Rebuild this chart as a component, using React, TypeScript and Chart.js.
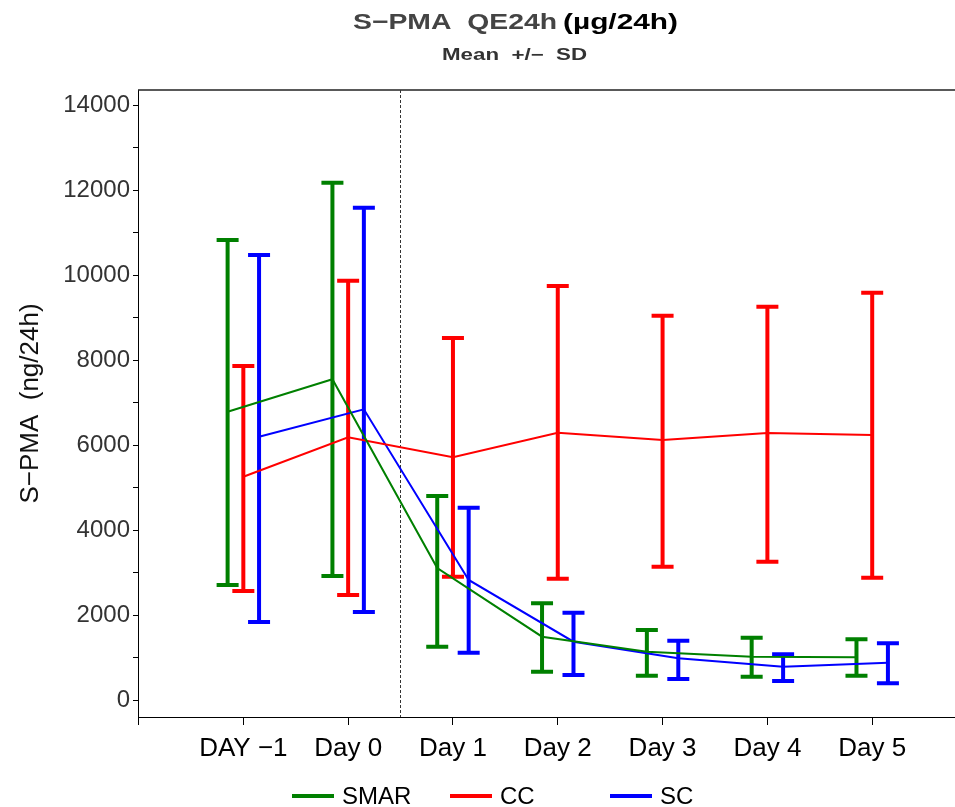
import React, { useEffect, useRef } from 'react';
import { Chart, registerables } from 'chart.js';

Chart.register(...registerables);

// ---- Data ----
const categories = ['DAY −1', 'Day 0', 'Day 1', 'Day 2', 'Day 3', 'Day 4', 'Day 5'];
const yTickValues = [0, 1000, 2000, 3000, 4000, 5000, 6000, 7000, 8000, 9000, 10000, 11000, 12000, 13000, 14000];

const smarMean = [6784, 7546, 3106, 1490, 1137, 1020, 1004];
const smarUpper = [10824, 12172, 4800, 2275, 1647, 1467, 1427];
const smarLower = [2706, 2918, 1255, 666, 572, 549, 572];

const ccMean = [5254, 6181, 5710, 6290, 6118, 6282, 6235];
const ccUpper = [7859, 9866, 8518, 9741, 9043, 9255, 9584];
const ccLower = [2565, 2471, 2902, 2855, 3137, 3255, 2878];

const scMean = [6195, 6840, 2824, 1372, 980, 784, 878];
const scUpper = [10471, 11584, 4525, 2054, 1396, 1075, 1334];
const scLower = [1835, 2071, 1113, 588, 494, 447, 392];

const seriesNames = ['SMAR', 'CC', 'SC'];

// ---- Styles ----
const FONT = "'Liberation Sans', Arial, Helvetica, sans-serif";
const COLORS = ['#008000', '#ff0000', '#0000ff'];
const OFFSETS = [-0.15, 0, 0.15];
const SERIES = [
  { name: seriesNames[0], mean: smarMean, upper: smarUpper, lower: smarLower, color: COLORS[0], offset: OFFSETS[0] },
  { name: seriesNames[1], mean: ccMean, upper: ccUpper, lower: ccLower, color: COLORS[1], offset: OFFSETS[1] },
  { name: seriesNames[2], mean: scMean, upper: scUpper, lower: scLower, color: COLORS[2], offset: OFFSETS[2] },
];
const REF_LINE_AT = 1.5;

function fitText(ctx: CanvasRenderingContext2D, text: string, x0: number, x1: number, y: number) {
  const w = ctx.measureText(text).width;
  const sx = (x1 - x0) / w;
  ctx.save();
  ctx.translate(x0, y);
  ctx.scale(sx, 1);
  ctx.textAlign = 'left';
  ctx.fillText(text, 0, 0);
  ctx.restore();
}

const decorPlugin = {
  id: 'decor',
  beforeDatasetsDraw(chart: any) {
    const { ctx, chartArea, scales } = chart;
    const x = scales.x;
    const y = scales.y;
    ctx.save();
    // top frame line
    ctx.strokeStyle = '#222';
    ctx.lineWidth = 1.5;
    ctx.beginPath();
    ctx.moveTo(chartArea.left, chartArea.top);
    ctx.lineTo(chartArea.right, chartArea.top);
    ctx.stroke();
    // dotted reference line
    const rx = Math.round(x.getPixelForValue(REF_LINE_AT)) - 0.5;
    ctx.strokeStyle = '#333';
    ctx.lineWidth = 1;
    ctx.setLineDash([3, 2]);
    ctx.beginPath();
    ctx.moveTo(rx, chartArea.top);
    ctx.lineTo(rx, chartArea.bottom);
    ctx.stroke();
    ctx.setLineDash([]);
    // error bars
    ctx.lineCap = 'butt';
    SERIES.forEach((s) => {
      ctx.strokeStyle = s.color;
      ctx.lineWidth = 4;
      s.mean.forEach((_m, i) => {
        const px = x.getPixelForValue(i + s.offset);
        const pt = y.getPixelForValue(s.upper[i]);
        const pb = y.getPixelForValue(s.lower[i]);
        ctx.beginPath();
        ctx.moveTo(px, pt);
        ctx.lineTo(px, pb);
        ctx.moveTo(px - 11, pt);
        ctx.lineTo(px + 11, pt);
        ctx.moveTo(px - 11, pb);
        ctx.lineTo(px + 11, pb);
        ctx.stroke();
      });
    });
    ctx.restore();
  },
  afterDraw(chart: any) {
    const { ctx } = chart;
    ctx.save();
    ctx.textBaseline = 'alphabetic';
    // title
    ctx.font = `bold 22px ${FONT}`;
    ctx.fillStyle = '#444';
    fitText(ctx, 'S−PMA  QE24h', 353, 557, 29);
    ctx.fillStyle = '#000';
    fitText(ctx, '(µg/24h)', 563, 678, 29);
    // subtitle
    ctx.font = `bold 16px ${FONT}`;
    ctx.fillStyle = '#333';
    fitText(ctx, 'Mean  +/−  SD', 442, 587, 60);
    // legend
    const legendY = 796;
    const legendStarts = [292, 450, 610];
    ctx.font = `24px ${FONT}`;
    ctx.textBaseline = 'middle';
    ctx.textAlign = 'left';
    SERIES.forEach((s, i) => {
      const lx = legendStarts[i];
      ctx.strokeStyle = s.color;
      ctx.lineWidth = 4;
      ctx.beginPath();
      ctx.moveTo(lx, legendY);
      ctx.lineTo(lx + 42, legendY);
      ctx.stroke();
      ctx.fillStyle = '#000';
      ctx.fillText(s.name, lx + 50, legendY + 1);
    });
    ctx.restore();
  },
};

export default function App() {
  const canvasRef = useRef<HTMLCanvasElement | null>(null);

  useEffect(() => {
    if (!canvasRef.current) return;
    const chart = new Chart(canvasRef.current, {
      type: 'line',
      data: {
        datasets: SERIES.map((s) => ({
          label: s.name,
          data: s.mean.map((v, i) => ({ x: i + s.offset, y: v })),
          borderColor: s.color,
          backgroundColor: s.color,
          borderWidth: 2,
          pointRadius: 0,
          fill: false,
          tension: 0,
        })),
      },
      options: {
        animation: false,
        responsive: false,
        devicePixelRatio: 1,
        layout: { padding: { top: 90, left: 0, right: 0, bottom: 0 } },
        plugins: {
          legend: { display: false },
          title: { display: false },
          tooltip: { enabled: false },
        },
        scales: {
          x: {
            type: 'linear',
            min: -1.005,
            max: 6.79,
            afterBuildTicks: (scale: any) => {
              scale.ticks = [-1, 0, 1, 2, 3, 4, 5, 6].map((v) => ({ value: v }));
            },
            afterFit: (scale: any) => {
              scale.height = 90;
            },
            ticks: {
              autoSkip: false,
              maxRotation: 0,
              padding: 8,
              color: '#000',
              font: { family: FONT, size: 26 },
              callback: (v: any) => (categories[v] !== undefined ? categories[v] : ''),
            },
            grid: { display: true, drawOnChartArea: false, drawTicks: true, tickLength: 8, color: '#000', lineWidth: 1 },
            border: { display: true, color: '#000', width: 1 },
          },
          y: {
            type: 'linear',
            min: -400,
            max: 14353,
            afterBuildTicks: (scale: any) => {
              scale.ticks = yTickValues.map((v) => ({ value: v }));
            },
            afterFit: (scale: any) => {
              scale.width = 138;
            },
            ticks: {
              autoSkip: false,
              padding: 3,
              color: '#333',
              font: { family: FONT, size: 24 },
              callback: (v: any) => (Number(v) % 2000 === 0 ? String(v) : ''),
            },
            grid: { display: true, drawOnChartArea: false, drawTicks: true, tickLength: 5, color: '#000', lineWidth: 1 },
            border: { display: true, color: '#000', width: 1 },
            title: {
              display: true,
              text: 'S−PMA  (ng/24h)',
              color: '#111',
              font: { family: FONT, size: 26 },
              padding: { top: 15, bottom: 0 },
            },
          },
        },
      },
      plugins: [decorPlugin],
    } as any);
    return () => chart.destroy();
  }, []);

  return (
    <div style={{ position: 'absolute', left: 0, top: 0, width: 955, height: 807, background: '#fff' }}>
      <canvas ref={canvasRef} width={955} height={807} style={{ display: 'block' }} />
    </div>
  );
}
